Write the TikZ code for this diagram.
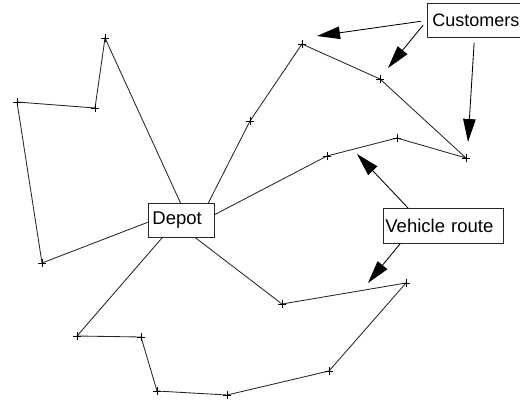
\documentclass[tikz,border=0pt]{standalone}
\usepackage{fontspec}
\setmainfont{Liberation Sans}
\usetikzlibrary{arrows.meta}
\begin{document}
\begin{tikzpicture}[x=1pt,y=-1pt,
  route/.style={draw=black!85, line width=0.85pt},
  labelbox/.style={draw=black!85, line width=0.85pt, fill=white, align=left,
    font=\fontsize{18.5}{20}\selectfont, inner ysep=0pt, minimum height=34pt,
    anchor=north west},
  pointer/.style={draw=black, line width=0.85pt,
    -{Triangle[length=23pt,width=12.5pt]}},
  cross/.style={draw=black, line width=0.7pt}]
\useasboundingbox (0,0) rectangle (520,402);

% labelled boxes
\node[labelbox, text width=58pt, inner xsep=4pt] (depot) at (148,203) {Depot};
\node[labelbox, text width=90pt, inner xsep=5pt,
      font=\fontsize{18}{20}\selectfont] (cust) at (427,3) {Customers};
\node[labelbox, text width=116pt, inner xsep=2pt, minimum height=35pt] (vr) at (383,208) {Vehicle route};

% customer locations
\coordinate (a1) at (105,38);
\coordinate (a2) at (95,108);
\coordinate (a3) at (17,102);
\coordinate (a4) at (42,263);
\coordinate (b1) at (250,121);
\coordinate (b2) at (302,44);
\coordinate (b3) at (380,79);
\coordinate (b4) at (466,158);
\coordinate (b5) at (397,138);
\coordinate (b6) at (327,156);
\coordinate (c1) at (77,336);
\coordinate (c2) at (141,337);
\coordinate (c3) at (157,391);
\coordinate (c4) at (227,395);
\coordinate (c5) at (329,371);
\coordinate (c6) at (406,283);
\coordinate (c7) at (282,304);

% routes
\draw[route] (depot.93) -- (a1) -- (a2) -- (a3) -- (a4) -- (depot.183.5);
\draw[route] (depot.33) -- (b1) -- (b2) -- (b3) -- (b4) -- (b5) -- (b6) -- (depot.10);
\draw[route] (depot.222) -- (c1) -- (c2) -- (c3) -- (c4) -- (c5) -- (c6) -- (c7) -- (depot.309.5);

% customer marks
\foreach \p in {a1,a2,a3,a4,b1,b2,b3,b4,b5,b6,c1,c2,c3,c4,c5,c6,c7}
  \draw[cross] ([xshift=-4pt]\p) -- ([xshift=4pt]\p)
               ([yshift=-4pt]\p) -- ([yshift=4pt]\p);

% pointer tips
\coordinate (t1) at (317,36);
\coordinate (t2) at (388,68);
\coordinate (t3) at (468,142);
\coordinate (t4) at (357,154);
\coordinate (t5) at (368,283);

% pointers
\draw[pointer, shorten <=6pt] (cust.west) -- (t1);
\draw[pointer, shorten <=6pt] (cust.west) -- (t2);
\draw[pointer, shorten <=5pt] ([xshift=-3pt]cust.south) -- (t3);
\draw[pointer] ([xshift=25pt]vr.north west) -- (t4);
\draw[pointer] ([xshift=17pt]vr.south west) -- (t5);
\end{tikzpicture}
\end{document}
